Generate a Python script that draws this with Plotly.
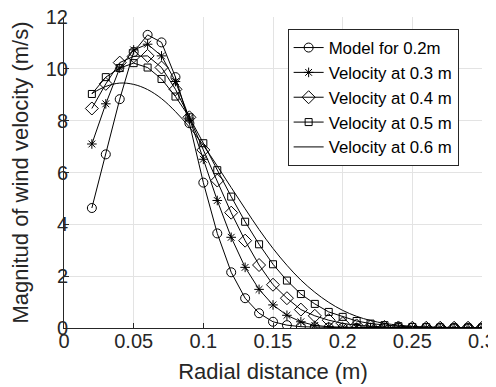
import plotly.graph_objects as go

radial = [0.02, 0.03, 0.04, 0.05, 0.06, 0.07, 0.08, 0.09, 0.10, 0.11, 0.12, 0.13, 0.14, 0.15,
          0.16, 0.17, 0.18, 0.19, 0.20, 0.21, 0.22, 0.23, 0.24, 0.25, 0.26, 0.27, 0.28, 0.29, 0.30]

model_02 = [4.63, 6.7, 8.83, 10.65, 11.31, 11.02, 9.68, 7.9, 5.61, 3.65, 2.15, 1.15, 0.57, 0.24,
            0.11, 0.05, 0.03, 0.02, 0.01, 0.01, 0.01, 0.01, 0.01, 0.01, 0.01, 0.01, 0.01, 0.01, 0.01]
vel_03 = [7.1, 8.65, 10.03, 10.73, 10.95, 10.5, 9.51, 8.1, 6.51, 4.92, 3.5, 2.34, 1.49, 0.89,
          0.49, 0.24, 0.1, 0.05, 0.03, 0.02, 0.01, 0.01, 0.01, 0.01, 0.01, 0.01, 0.01, 0.01, 0.01]
vel_04 = [8.47, 9.42, 10.24, 10.48, 10.5, 10.05, 9.21, 8.13, 6.87, 5.69, 4.45, 3.37, 2.43, 1.67,
          1.15, 0.71, 0.47, 0.3, 0.18, 0.1, 0.06, 0.04, 0.02, 0.01, 0.01, 0.01, 0.01, 0.01, 0.01]
vel_05 = [9.03, 9.68, 10.03, 10.22, 10.05, 9.61, 8.93, 8.13, 7.13, 6.09, 5.07, 4.1, 3.23, 2.46,
          1.83, 1.31, 0.93, 0.62, 0.43, 0.27, 0.17, 0.11, 0.07, 0.04, 0.03, 0.02, 0.01, 0.01, 0.01]
vel_06 = [9.05, 9.32, 9.45, 9.4, 9.2, 8.85, 8.35, 7.75, 7.05, 6.25, 5.42, 4.6, 3.8, 3.07,
          2.42, 1.85, 1.38, 0.99, 0.68, 0.45, 0.29, 0.18, 0.11, 0.06, 0.035, 0.02, 0.01, 0.005, 0.003]

names = ["Model for 0.2m", "Velocity at 0.3 m", "Velocity at 0.4 m", "Velocity at 0.5 m", "Velocity at 0.6 m"]
x_ticks = [0, 0.05, 0.1, 0.15, 0.2, 0.25, 0.3]
x_tick_labels = ["0", "0.05", "0.1", "0.15", "0.2", "0.25", "0.3"]
y_ticks = [0, 2, 4, 6, 8, 10, 12]

FONT = "Liberation Sans, Arial, Helvetica, sans-serif"
DARK = "#262626"

fig = go.Figure()
series = [
    (model_02, "lines+markers", dict(symbol="circle-open", size=9)),
    (vel_03, "lines+markers", dict(symbol="asterisk-open", size=8)),
    (vel_04, "lines+markers", dict(symbol="diamond-open", size=10)),
    (vel_05, "lines+markers", dict(symbol="square-open", size=7)),
    (vel_06, "lines", None),
]
for (vals, mode, mk), nm in zip(series, names):
    kw = dict(x=radial, y=vals, mode=mode, name=nm,
              line=dict(color="black", width=1))
    if mk:
        kw["marker"] = dict(color="black", line=dict(color="black", width=1), **mk)
    else:
        kw["line"]["shape"] = "spline"
    fig.add_trace(go.Scatter(**kw))

fig.update_layout(
    width=488, height=379,
    margin=dict(l=56, r=14, t=9, b=59),
    paper_bgcolor="white", plot_bgcolor="white",
    font=dict(family=FONT, size=20, color=DARK),
    showlegend=True,
    legend=dict(x=0.535, y=0.961, xanchor="left", yanchor="top",
                bgcolor="white", bordercolor=DARK, borderwidth=1,
                font=dict(size=16.8, color="black"), tracegroupgap=0,
                entrywidth=140),
    xaxis=dict(range=[0, 0.3], tickvals=x_ticks, ticktext=x_tick_labels,
               showgrid=True, gridcolor="#e3e3e3", gridwidth=1,
               showline=True, linecolor=DARK, linewidth=1, automargin=False,
               ticks="inside", ticklen=5, tickcolor=DARK, zeroline=False,
               ticklabelstandoff=-5, ticklabeloverflow="allow",
               title=dict(text="Radial distance (m)", font=dict(size=22), standoff=12)),
    yaxis=dict(range=[0, 12], tickvals=y_ticks,
               showgrid=True, gridcolor="#e3e3e3", gridwidth=1,
               showline=True, linecolor=DARK, linewidth=1, automargin=False,
               ticks="inside", ticklen=5, tickcolor=DARK, zeroline=False,
               ticklabelstandoff=-9, ticklabeloverflow="allow",
               title=dict(text="Magnitud of wind velocity (m/s)", font=dict(size=22), standoff=16)),
)

fig.write_html("out.html")
